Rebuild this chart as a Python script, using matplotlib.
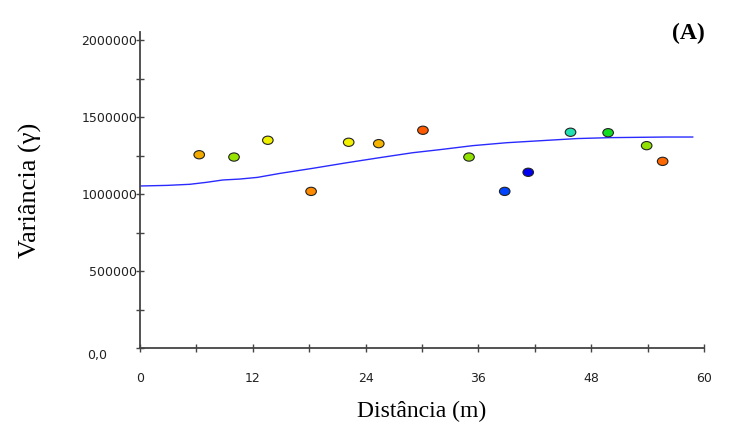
import numpy as np
import matplotlib
matplotlib.use("Agg")
import matplotlib.pyplot as plt
from matplotlib.path import Path
from matplotlib.ticker import MultipleLocator, FixedLocator
from matplotlib.transforms import offset_copy

# experimental semivariance (lag distance in m, semivariance)
lag = [6.3, 10.0, 13.6, 18.2, 22.2, 25.4, 30.1, 35.0, 38.8, 41.3, 45.8, 49.8, 53.9, 55.6]
gamma = [1255000, 1240000, 1349000, 1017000, 1336000, 1327000, 1414000,
         1240000, 1017000, 1141000, 1401000, 1398000, 1314000, 1212000]
pt_colors = ["#f2a900", "#96e400", "#eef000", "#ff8a00", "#f2f000", "#f5b400", "#ff5a00",
             "#90e000", "#0044ff", "#0000ee", "#22e0b4", "#12dc22", "#92e000", "#ff6800"]

# fitted model curve
model_x = [0.0, 2.9, 5.3, 7.1, 8.8, 10.6, 12.5, 14.9, 18.4, 22.0, 25.5, 29.0,
           31.9, 35.4, 39.0, 42.6, 46.5, 50.0, 55.9, 58.8]
model_y = [1052000, 1056000, 1063000, 1076000, 1091000, 1097000, 1108000, 1134000,
           1167000, 1203000, 1236000, 1268000, 1288000, 1314000, 1333000, 1346000,
           1360000, 1366000, 1370000, 1370000]

x_labels = ["0", "12", "24", "36", "48", "60"]
y_labels = ["500000", "1000000", "1500000", "2000000"]

# slightly flattened circle for the markers
circ = Path.unit_circle()
ellipse = Path(circ.vertices * np.array([1.0, 0.78]), circ.codes)

fig = plt.figure(figsize=(7.4, 4.3), dpi=100)
ax = fig.add_axes([140 / 740, 1 - 348 / 430, 564 / 740, 316 / 430])

ax.plot(model_x, model_y, color="#2a2aff", lw=1.0, zorder=2)
ax.scatter(lag, gamma, s=58, marker=ellipse, c=pt_colors, edgecolors="#222222",
           linewidths=0.8, zorder=3)

ax.set_xlim(0, 60)
ax.set_ylim(0, 2052000)

for side in ("top", "right"):
    ax.spines[side].set_visible(False)
for side in ("left", "bottom"):
    ax.spines[side].set_color("#444444")
    ax.spines[side].set_linewidth(1.3)

ax.xaxis.set_major_locator(FixedLocator(np.arange(0, 61, 12)))
ax.xaxis.set_minor_locator(MultipleLocator(6))
ax.set_xticklabels(x_labels)
ax.yaxis.set_major_locator(FixedLocator([500000, 1000000, 1500000, 2000000]))
ax.yaxis.set_minor_locator(MultipleLocator(250000))
ax.set_yticklabels(y_labels)

ax.tick_params(which="both", direction="inout", length=6, width=1.0, color="#444444")
ax.tick_params(axis="x", which="major", pad=14, labelsize=9, labelcolor="#222222")
ax.tick_params(axis="y", which="major", pad=-1, labelsize=9, labelcolor="#222222")

# origin label sits apart from the others
ax.text(0, 0, "0,0", fontsize=9, color="#222222", ha="right", va="center",
        transform=offset_copy(ax.transData, fig=fig, x=-33, y=-7, units="dots"))

ax.set_xlabel("Distância (m)", family="Liberation Serif", fontsize=17, labelpad=12)
ax.set_ylabel("Variância (γ)", family="Liberation Serif", fontsize=19, labelpad=28)

fig.text(688 / 740, 1 - 33 / 430, "(A)", family="Liberation Serif", fontsize=17,
         fontweight="bold", ha="center", va="center")

fig.savefig("out.png", dpi=100)
